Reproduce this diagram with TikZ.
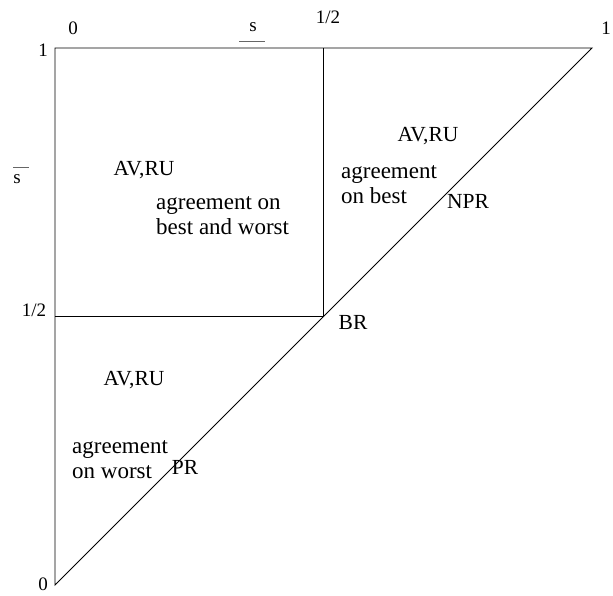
\documentclass[tikz,border=0pt]{standalone}
\usepackage{fontspec}
\setmainfont{Liberation Serif}
\usetikzlibrary{positioning}

\begin{document}
\begin{tikzpicture}[x=1pt, y=-1pt,
    edge/.style={line width=0.9pt, black},
    bar/.style={line width=0.8pt, black!60},
    tick/.style={font=\fontsize{19}{22}\selectfont, inner sep=0pt},
    tag/.style={font=\fontsize{21.5}{25}\selectfont, inner sep=0pt},
    region/.style={font=\fontsize{23}{25}\selectfont, align=left, inner sep=0pt},
]
    \useasboundingbox (0,0) rectangle (613,595);

    % corners of the triangle and the square
    \coordinate (bl)  at (55,585);
    \coordinate (tl)  at (55,48);
    \coordinate (tr)  at (592,48);
    \coordinate (tm)  at (323.5,48);
    \coordinate (lm)  at (55,316.5);
    \coordinate (mid) at (323.5,316.5);

    \draw[edge] (bl) -- (tl) -- (tr) -- cycle;
    \draw[edge] (tm) -- (mid) -- (lm);

    % axis labels
    \node[tick] (top0)   at (73,28)   {0};
    \node[tick] (tops)   at (253,27)  {s};
    \node[tick] (tophalf) at (328,17) {1/2};
    \node[tick] (topone) at (606,28)  {1};
    \node[tick] (leftone) at (43,50)  {1};
    \node[tick] (lefts)  at (17,179)  {s};
    \node[tick] (lefthalf) at (34,310) {1/2};
    \node[tick] (left0)  at (43,584)  {0};

    \coordinate (ul1) at (239,41);
    \coordinate (ul2) at (265,41);
    \draw[bar] (ul1) -- (ul2);
    \coordinate (ol1) at (13,167);
    \coordinate (ol2) at (29,167);
    \draw[bar] (ol1) -- (ol2);

    % regions
    \node[tag] (avru1) at (144,170) {AV,RU};
    \node[region, anchor=west] (both) at (156,216) {agreement on\\best and worst};
    \node[tag] (avru2) at (428,136) {AV,RU};
    \node[region, anchor=west] (best) at (341,185) {agreement\\on best};
    \node[tag] (avru3) at (134,380) {AV,RU};
    \node[region, anchor=west] (worst) at (72,460) {agreement\\on worst};

    % points on the diagonal
    \node[tag] (npr) at (468,201) {NPR};
    \node[tag] (br)  at (353,322) {BR};
    \node[tag] (pr)  at (185,467) {PR};
\end{tikzpicture}
\end{document}
